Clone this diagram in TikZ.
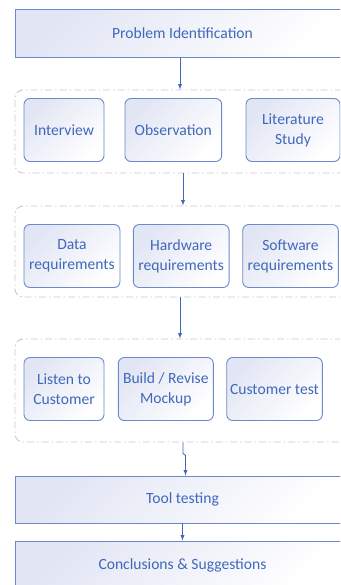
\documentclass[tikz,border=0pt]{standalone}
\usepackage{fontspec}
\setmainfont{Carlito}
\definecolor{txtblue}{HTML}{4068BC}
\definecolor{lineblue}{HTML}{6A8ACC}
\definecolor{boxlav}{HTML}{E2E5F4}
\definecolor{framegray}{HTML}{C8C8C8}

\begin{document}
\begin{tikzpicture}[x=1pt,y=-1pt,
  stage/.style={draw=lineblue,line width=0.9pt,top color=boxlav,bottom color=white,shading angle=45,
    text=txtblue,font=\fontsize{15.6}{20}\selectfont,minimum width=335pt,inner sep=0pt},
  task/.style={draw=lineblue,line width=0.9pt,rounded corners=6pt,top color=boxlav,bottom color=white,shading angle=45,
    text=txtblue,align=center,font=\fontsize{15.6}{20}\selectfont,inner sep=0pt,minimum height=63pt},
  group/.style={draw=framegray,line width=0.9pt,rounded corners=8pt,dash pattern=on 7pt off 3pt on 1.5pt off 3pt,
    minimum width=335pt,inner sep=0pt},
  arr/.style={draw=txtblue,line width=0.9pt,-latex}]
\useasboundingbox (0,0) rectangle (340,585);
\clip (0,0) rectangle (340,585);

% top stage
\node[stage,minimum height=47.5pt] (problem) at (182.5,33.25) {Problem Identification};

% first group
\node[group,minimum height=83pt] (g1) at (182.5,131.5) {};
\node[task,minimum width=80pt] (interview) at (64,130) {Interview};
\node[task,minimum width=96.7pt] (observation) at (173.3,130) {Observation};
\node[task,minimum width=94pt] (literature) at (293,130) {Literature\\Study};

% second group
\node[group,minimum height=91pt] (g2) at (182.5,251.5) {};
\node[task,minimum width=96pt] (datareq) at (72,256) {Data\\requirements};
\node[task,minimum width=95.7pt] (hardreq) at (181.2,256) {Hardware\\requirements};
\node[task,minimum width=95.6pt] (softreq) at (290.5,256) {Software\\requirements};

% third group
\node[group,minimum height=103pt] (g3) at (182.5,390.5) {};
\node[task,minimum width=80pt] (listen) at (64,389) {Listen to\\Customer};
\node[task,minimum width=95pt] (mockup) at (165.8,389) {Build / Revise\\Mockup};
\node[task,minimum width=95.6pt] (custtest) at (274.5,389) {Customer test};

% bottom stages
\node[stage,minimum height=47pt] (tooltest) at (182.5,499.5) {Tool testing};
\node[stage,minimum height=48pt] (conclusions) at (182.5,565) {Conclusions \& Suggestions};

\draw[arr] ([xshift=-2.5pt]problem.south) -- ([xshift=-2.5pt]g1.north);
\draw[arr] ([xshift=0.5pt]g1.south) -- ([xshift=0.5pt]g2.north);
\draw[arr] ([xshift=-2.5pt]g2.south) -- ([xshift=-2.5pt]g3.north);
\draw[arr] ([xshift=0.5pt]g3.south) -- ++(0,11) -- ++(2.5,2) -- ([xshift=3pt]tooltest.north);
\draw[arr] (tooltest.south) -- (conclusions.north);
\end{tikzpicture}
\end{document}
